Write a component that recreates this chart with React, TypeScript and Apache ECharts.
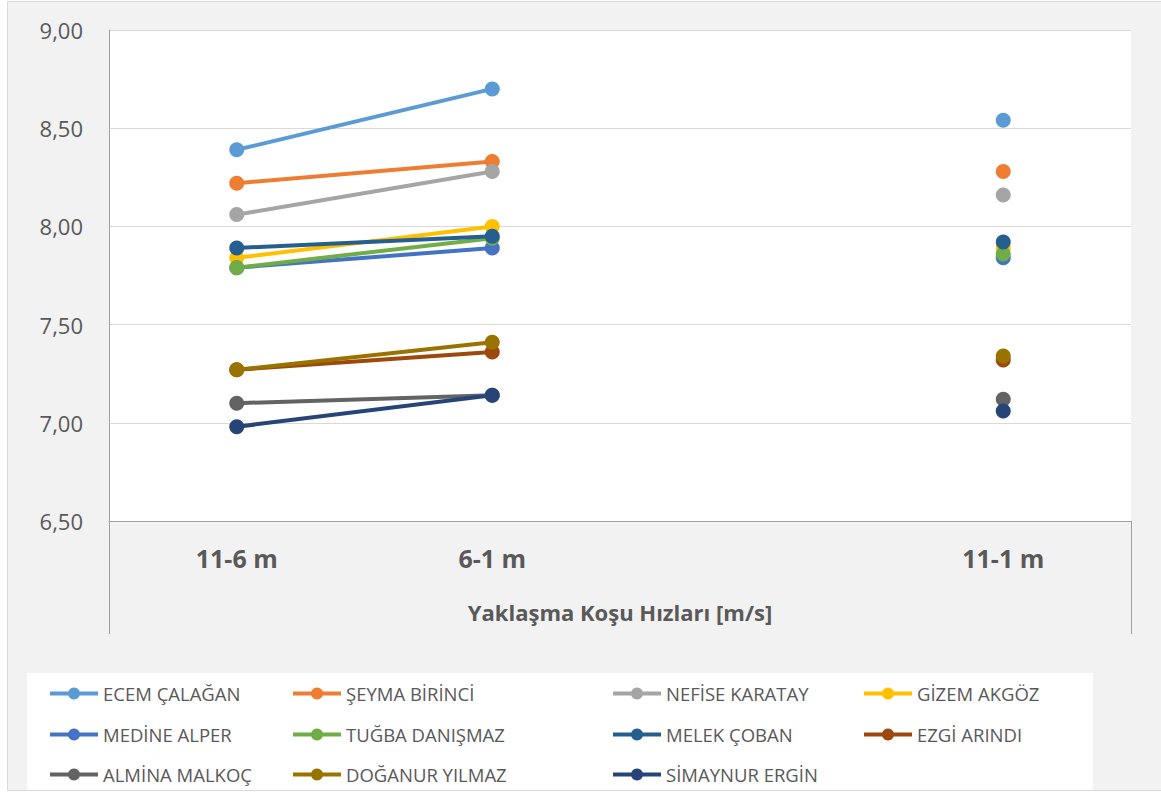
import React, { useEffect, useRef } from "react";
import * as echarts from "echarts";

const categories = ["11-6 m", "6-1 m", "", "11-1 m"];
const yTicks = { min: 6.5, max: 9, interval: 0.5 };
const axisName = "Yaklaşma Koşu Hızları [m/s]";

const names = [
  "ECEM ÇALAĞAN",
  "ŞEYMA BİRİNCİ",
  "NEFİSE KARATAY",
  "GİZEM AKGÖZ",
  "MEDİNE ALPER",
  "TUĞBA DANIŞMAZ",
  "MELEK ÇOBAN",
  "EZGİ ARINDI",
  "ALMİNA MALKOÇ",
  "DOĞANUR YILMAZ",
  "SİMAYNUR ERGİN",
];

const ecem = [8.39, 8.7, null, 8.54];
const seyma = [8.22, 8.33, null, 8.28];
const nefise = [8.06, 8.28, null, 8.16];
const gizem = [7.84, 8.0, null, 7.89];
const medine = [7.79, 7.89, null, 7.84];
const tugba = [7.79, 7.94, null, 7.86];
const melek = [7.89, 7.95, null, 7.92];
const ezgi = [7.27, 7.36, null, 7.32];
const almina = [7.1, 7.14, null, 7.12];
const doganur = [7.27, 7.41, null, 7.34];
const simaynur = [6.98, 7.14, null, 7.06];

const values = [ecem, seyma, nefise, gizem, medine, tugba, melek, ezgi, almina, doganur, simaynur];

const colors = [
  "#5B9BD5",
  "#ED7D31",
  "#A5A5A5",
  "#FFC000",
  "#4472C4",
  "#70AD47",
  "#255E91",
  "#9E480E",
  "#636363",
  "#997300",
  "#264478",
];

const FONT = "'Open Sans', 'Noto Sans', sans-serif";
const legendCols = [48, 291, 611, 862];
const legendRows = [692, 733, 773];

export default function App() {
  const ref = useRef<HTMLDivElement>(null);

  useEffect(() => {
    if (!ref.current) return;
    const chart = echarts.init(ref.current, null, { renderer: "svg" });

    const series = names.map((n, i) => ({
      name: n,
      type: "line",
      data: values[i],
      connectNulls: false,
      symbol: "circle",
      symbolSize: 15,
      lineStyle: { width: 4, color: colors[i] },
      itemStyle: { color: colors[i] },
      emphasis: { disabled: true },
    }));

    const legends = names.map((n, i) => ({
      data: [n],
      left: legendCols[i % 4],
      top: legendRows[Math.floor(i / 4)] - 8,
      padding: 0,
      itemWidth: 48,
      itemHeight: 15,
      selectedMode: false,
      lineStyle: { width: 4 },
      textStyle: { fontFamily: FONT, fontSize: 18.5, color: "#595959" },
    }));

    chart.setOption({
      animation: false,
      backgroundColor: "transparent",
      color: colors,
      grid: {
        left: 109,
        right: 30,
        top: 30,
        bottom: 272,
        show: true,
        backgroundColor: "#ffffff",
        borderWidth: 0,
      },
      legend: legends,
      xAxis: {
        type: "category",
        data: categories,
        boundaryGap: true,
        axisTick: { show: false },
        axisLine: { show: true, lineStyle: { color: "#a0a0a0", width: 1 } },
        axisLabel: {
          fontFamily: FONT,
          fontSize: 25,
          fontWeight: "bold",
          color: "#595959",
          margin: 24,
          interval: 0,
        },
        name: axisName,
        nameLocation: "middle",
        nameGap: 80,
        nameTextStyle: {
          fontFamily: FONT,
          fontSize: 22,
          fontWeight: "bold",
          color: "#595959",
        },
      },
      yAxis: {
        type: "value",
        min: yTicks.min,
        max: yTicks.max,
        interval: yTicks.interval,
        axisLine: { show: true, lineStyle: { color: "#a0a0a0", width: 1 } },
        axisTick: { show: false },
        splitLine: { lineStyle: { color: "#d9d9d9", width: 1 } },
        axisLabel: {
          fontFamily: FONT,
          fontSize: 22,
          color: "#595959",
          margin: 26,
          formatter: (v: number) => v.toFixed(2).replace(".", ","),
        },
      },
      graphic: [
        {
          type: "line",
          shape: { x1: 109.5, y1: 521, x2: 109.5, y2: 634 },
          style: { stroke: "#a0a0a0", lineWidth: 1 },
          silent: true,
        },
        {
          type: "line",
          shape: { x1: 1131.5, y1: 521, x2: 1131.5, y2: 634 },
          style: { stroke: "#a0a0a0", lineWidth: 1 },
          silent: true,
        },
      ],
      series,
    });

    return () => chart.dispose();
  }, []);

  return (
    <div style={{ position: "absolute", left: 0, top: 0, width: 1161, height: 793, background: "#ffffff", overflow: "hidden" }}>
      <div
        style={{
          position: "absolute",
          left: 7,
          top: 1,
          width: 1160,
          height: 790,
          background: "#f2f2f2",
          border: "1px solid #d9d9d9",
          boxSizing: "border-box",
        }}
      />
      <div style={{ position: "absolute", left: 27, top: 673, width: 1066, height: 117, background: "#ffffff" }} />
      <div ref={ref} style={{ position: "absolute", left: 0, top: 0, width: 1161, height: 793 }} />
    </div>
  );
}
